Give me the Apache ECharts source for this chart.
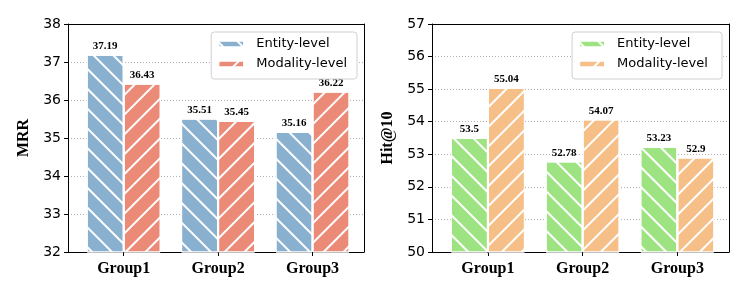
<!DOCTYPE html>
<html>
<head>
<meta charset="utf-8">
<script src="https://cdn.jsdelivr.net/npm/echarts@6/dist/echarts.min.js"></script>
<style>
  html, body { margin: 0; padding: 0; background: #fff; }
  #chart { width: 747px; height: 299px; }
</style>
</head>
<body>
<div id="chart"></div>
<script>
// ---- data ----
var categories = ['Group1', 'Group2', 'Group3'];
var seriesNames = ['Entity-level', 'Modality-level'];
var mrrEntity = [37.19, 35.51, 35.16];
var mrrModality = [36.43, 35.45, 36.22];
var hitEntity = [53.5, 52.78, 53.23];
var hitModality = [55.04, 54.07, 52.9];
var mrrTicks = [32, 33, 34, 35, 36, 37, 38];
var hitTicks = [50, 51, 52, 53, 54, 55, 56, 57];
var panelNames = ['MRR', 'Hit@10'];

// ---- styles ----
var SANS = 'DejaVu Sans';
var SERIF = 'Liberation Serif';
var colors = [['#8AB0D0', '#EC8A78'], ['#9DE382', '#F5BF87']];
var decalBack = { symbol: 'rect', symbolSize: 1, color: '#ffffff', dashArrayX: [1, 0], dashArrayY: [2, 12], rotation: Math.PI / 4 };
var decalFwd  = { symbol: 'rect', symbolSize: 1, color: '#ffffff', dashArrayX: [1, 0], dashArrayY: [2, 12], rotation: -Math.PI / 4 };

var grids = [
  { left: 68, top: 24, width: 296, height: 228 },
  { left: 432, top: 24, width: 297, height: 228 }
];

function pairs(arr) { return arr.map(function (v, i) { return [i, v]; }); }

var xAxes = [], yAxes = [], series = [], legends = [];
[0, 1].forEach(function (g) {
  var ticks = g === 0 ? mrrTicks : hitTicks;
  xAxes.push({
    type: 'value', gridIndex: g, min: -0.59, max: 2.545,
    axisLine: { show: true, onZero: false, lineStyle: { color: '#000', width: 1 } },
    axisTick: { show: true, customValues: [0, 1, 2], length: 4, lineStyle: { color: '#000', width: 1 } },
    axisLabel: {
      customValues: [0, 1, 2], margin: 9,
      formatter: function (v) { return categories[Math.round(v)]; },
      fontFamily: SERIF, fontWeight: 'bold', fontSize: 16, color: '#000'
    },
    splitLine: { show: false }
  });
  xAxes.push({
    type: 'value', gridIndex: g, position: 'top', min: -0.59, max: 2.545,
    axisLine: { show: true, onZero: false, lineStyle: { color: '#000', width: 1 } },
    axisTick: { show: false }, axisLabel: { show: false }, splitLine: { show: false }
  });
  yAxes.push({
    type: 'value', gridIndex: g, min: ticks[0], max: ticks[ticks.length - 1], interval: 1,
    name: panelNames[g], nameLocation: 'middle', nameGap: 36,
    nameTextStyle: { fontFamily: SERIF, fontWeight: 'bold', fontSize: 16, color: '#000' },
    axisLine: { show: true, onZero: false, lineStyle: { color: '#000', width: 1 } },
    axisTick: { show: true, length: 4, lineStyle: { color: '#000', width: 1 } },
    axisLabel: { margin: 7, fontFamily: SANS, fontSize: 14, color: '#000' },
    splitLine: { show: true, lineStyle: { color: '#b0b0b0', width: 1, type: [1, 2] } }
  });
  yAxes.push({
    type: 'value', gridIndex: g, position: 'right', min: 0, max: 1,
    axisLine: { show: true, onZero: false, lineStyle: { color: '#000', width: 1 } },
    axisTick: { show: false }, axisLabel: { show: false }, splitLine: { show: false }
  });
  var ent = g === 0 ? mrrEntity : hitEntity;
  var mod = g === 0 ? mrrModality : hitModality;
  [ent, mod].forEach(function (arr, s) {
    series.push({
      type: 'bar', name: seriesNames[s] + (g === 1 ? ' ' : ''),
      xAxisIndex: g * 2, yAxisIndex: g * 2,
      data: pairs(arr), barWidth: 37, barGap: '0%',
      itemStyle: { color: colors[g][s], borderColor: '#fff', borderWidth: 1, decal: s === 0 ? decalBack : decalFwd },
      label: {
        show: true, position: 'top', distance: 3,
        formatter: function (p) { return String(p.value[1]); },
        fontFamily: SERIF, fontWeight: 'bold', fontSize: 11, color: '#000'
      }
    });
  });
  legends.push({
    orient: 'vertical',
    right: g === 0 ? 390 : 25, top: 32,
    data: seriesNames.map(function (n) { return { name: n + (g === 1 ? ' ' : ''), icon: 'rect' }; }),
    itemWidth: 26, itemHeight: 7, itemGap: 6,
    padding: [5, 10, 8, 6],
    borderColor: '#d0d0d0', borderWidth: 1, borderRadius: 3, backgroundColor: '#fff',
    textStyle: { fontFamily: SANS, fontSize: 13, color: '#000', padding: [0, 0, 0, 7], lineHeight: 14 }
  });
});

var chart = echarts.init(document.getElementById('chart'), null, { renderer: 'canvas' });
chart.setOption({
  animation: false,
  aria: { enabled: true, decal: { show: true } },
  grid: grids,
  xAxis: xAxes,
  yAxis: yAxes,
  legend: legends,
  series: series
});
</script>
</body>
</html>
